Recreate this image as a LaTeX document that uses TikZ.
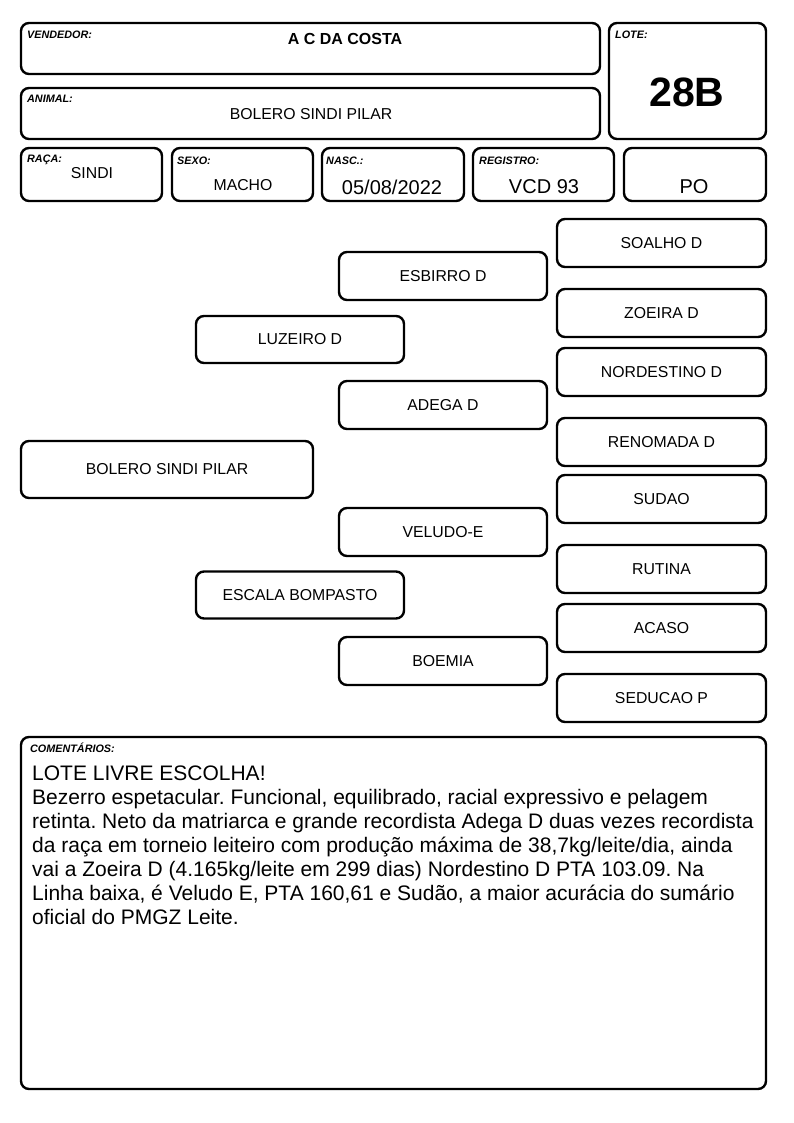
\documentclass[tikz,border=0pt]{standalone}
\usepackage{fontspec}
\setmainfont{Liberation Sans}
\frenchspacing
\begin{document}
\begin{tikzpicture}[x=1pt,y=-1pt,
  box/.style={draw,line width=2.4pt,rounded corners=8pt,inner sep=0pt},
  lbl/.style={anchor=north west,inner sep=0pt,font=\fontsize{10.8}{12}\selectfont\bfseries\itshape},
  txt/.style={inner sep=0pt,font=\fontsize{15.8}{18}\selectfont},
  big/.style={inner sep=0pt,font=\fontsize{20}{22}\selectfont}]
\useasboundingbox (0,0) rectangle (794,1123);
\fill[white] (0,0) rectangle (794,1123);
% header boxes
\node[box,minimum width=579,minimum height=51] (vend) at (310.5,48.5) {};
\node[lbl] (vendl) at (27,31) {VENDEDOR:};
\node[inner sep=0pt,font=\fontsize{16}{18}\selectfont\bfseries] (vendt) at (345,38.5) {A C DA COSTA};
\node[box,minimum width=579,minimum height=51] (anim) at (310.5,113.5) {};
\node[lbl] (animl) at (27,95) {ANIMAL:};
\node[txt] (animt) at (311,114) {BOLERO SINDI PILAR};
\node[box,minimum width=157,minimum height=116] (lote) at (687.5,81) {};
\node[lbl] (lotel) at (615,31) {LOTE:};
\node[inner sep=0pt,font=\fontsize{41}{46}\selectfont\bfseries] (lotet) at (687,92) {28B};
% info row
\node[box,minimum width=141,minimum height=53] (raca) at (91.5,174.5) {};
\node[lbl] (racal) at (27,155) {RAÇA:};
\node[txt] (racat) at (92,173) {SINDI};
\node[box,minimum width=141,minimum height=53] (sexo) at (242.5,174.5) {};
\node[lbl] (sexol) at (177,157) {SEXO:};
\node[txt] (sexot) at (243,185) {MACHO};
\node[box,minimum width=142,minimum height=53] (nasc) at (393,174.5) {};
\node[lbl] (nascl) at (326,157) {NASC.:};
\node[big] (nasct) at (392,187) {05/08/2022};
\node[box,minimum width=141,minimum height=53] (reg) at (543.5,174.5) {};
\node[lbl] (regl) at (479,157) {REGISTRO:};
\node[big] (regt) at (544,187) {VCD 93};
\node[box,minimum width=142,minimum height=53] (po) at (695,174.5) {};
\node[big] (pot) at (694,187) {PO};
% pedigree
\node[box,txt,minimum width=292,minimum height=57] (p0) at (167,469.5) {BOLERO SINDI PILAR};
\node[box,txt,minimum width=208,minimum height=47] (p1) at (300,339.5) {LUZEIRO D};
\node[box,txt,minimum width=208,minimum height=47] (p2) at (300,595) {ESCALA BOMPASTO};
\node[box,txt,minimum width=208,minimum height=48] (g1) at (443,276) {ESBIRRO D};
\node[box,txt,minimum width=208,minimum height=48] (g2) at (443,405) {ADEGA D};
\node[box,txt,minimum width=208,minimum height=48] (g3) at (443,532) {VELUDO-E};
\node[box,txt,minimum width=208,minimum height=48] (g4) at (443,661) {BOEMIA};
\node[box,txt,minimum width=209,minimum height=48] (r1) at (661.5,243) {SOALHO D};
\node[box,txt,minimum width=209,minimum height=48] (r2) at (661.5,313) {ZOEIRA D};
\node[box,txt,minimum width=209,minimum height=48] (r3) at (661.5,372) {NORDESTINO D};
\node[box,txt,minimum width=209,minimum height=48] (r4) at (661.5,442) {RENOMADA D};
\node[box,txt,minimum width=209,minimum height=48] (r5) at (661.5,499) {SUDAO};
\node[box,txt,minimum width=209,minimum height=48] (r6) at (661.5,569) {RUTINA};
\node[box,txt,minimum width=209,minimum height=48] (r7) at (661.5,628) {ACASO};
\node[box,txt,minimum width=209,minimum height=48] (r8) at (661.5,698) {SEDUCAO P};
% comments
\node[box,minimum width=745,minimum height=352] (com) at (393.5,913) {};
\node[lbl] (coml) at (30,743) {COMENTÁRIOS:};
\node[anchor=north west,inner sep=0pt,align=left,font=\fontsize{21}{24}\selectfont] (comt) at (32,766) {LOTE LIVRE ESCOLHA!\\
Bezerro espetacular. Funcional, equilibrado, racial expressivo e pelagem\\
retinta. Neto da matriarca e grande recordista Adega D duas vezes recordista\\
da raça em torneio leiteiro com produção máxima de 38,7kg/leite/dia, ainda\\
vai a Zoeira D (4.165kg/leite em 299 dias) Nordestino D PTA 103.09. Na\\
Linha baixa, é Veludo E, PTA 160,61 e Sudão, a maior acurácia do sumário\\
oficial do PMGZ Leite.};
\end{tikzpicture}
\end{document}
